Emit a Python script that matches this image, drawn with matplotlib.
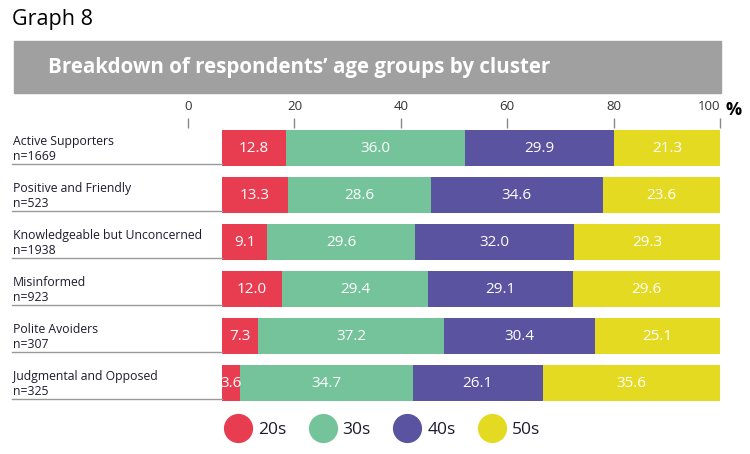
import matplotlib.pyplot as plt
from matplotlib.patches import Rectangle
from matplotlib.lines import Line2D

plt.rcParams['font.family'] = ['Open Sans', 'DejaVu Sans']

# data
clusters = ["Active Supporters", "Positive and Friendly", "Knowledgeable but Unconcerned",
            "Misinformed", "Polite Avoiders", "Judgmental and Opposed"]
n_resp = [1669, 523, 1938, 923, 307, 325]
age_groups = ["20s", "30s", "40s", "50s"]
v20 = [12.8, 13.3, 9.1, 12.0, 7.3, 3.6]
v30 = [36.0, 28.6, 29.6, 29.4, 37.2, 34.7]
v40 = [29.9, 34.6, 32.0, 29.1, 30.4, 26.1]
v50 = [21.3, 23.6, 29.3, 29.6, 25.1, 35.6]
ticks = [0, 20, 40, 60, 80, 100]

colors = ["#E83C50", "#74C39A", "#5A539F", "#E5DA22"]
text_col = "#1c1c2e"

W, H = 750, 454
fig = plt.figure(figsize=(W / 100, H / 100), dpi=100)


def box(x0, y0, x1, y1):
    # pixel box (top-left origin) -> figure fraction
    return [x0 / W, 1 - y1 / H, (x1 - x0) / W, (y1 - y0) / H]


# header
fig.text(12 / W, 1 - 19 / H, "Graph 8", fontsize=15.5, color="black", va="center", ha="left")
fig.patches.append(Rectangle((14 / W, 1 - 93 / H), 707 / W, 52 / H,
                             transform=fig.transFigure, color="#A0A0A0", zorder=0))
fig.text(48 / W, 1 - 68 / H, "Breakdown of respondents’ age groups by cluster",
         fontsize=14.8, fontweight="bold", color="white", va="center", ha="left")

# tick scale axis (top)
tax = fig.add_axes(box(188, 128, 720, 128.5))
tax.set_xlim(0, 100)
tax.set_xticks(ticks)
tax.set_yticks([])
for s in tax.spines.values():
    s.set_visible(False)
tax.xaxis.set_ticks_position("top")
tax.xaxis.set_label_position("top")
tax.tick_params(axis="x", direction="out", length=7.5, width=1, color="#888888",
                labelsize=9.5, labelcolor="#333333", pad=3)
tax.get_xticklabels()[-1].set_horizontalalignment("right")
fig.text(725 / W, 1 - 110 / H, "%", fontsize=13, fontweight="bold", color="black",
         va="center", ha="left")

# bars
ax = fig.add_axes(box(222, 124.5, 720, 406.5))
ax.set_xlim(0, 100)
ax.set_ylim(len(clusters) - 0.5, -0.5)
ax.axis("off")

rows = list(range(len(clusters)))
left = [0.0] * len(clusters)
for vals, col in zip([v20, v30, v40, v50], colors):
    ax.barh(rows, vals, left=left, height=0.745, color=col, linewidth=0)
    for i, v in enumerate(vals):
        ax.text(left[i] + v / 2, i + 0.02, f"{v:.1f}", color="white", fontsize=11,
                ha="center", va="center")
    left = [l + v for l, v in zip(left, vals)]

for i, (name, n) in enumerate(zip(clusters, n_resp)):
    ax.text(-42, i + 0.02, f"{name}\nn={n}", fontsize=8.8, color=text_col,
            ha="left", va="center", linespacing=1.15, clip_on=False)
    ax.plot([-42.2, 0], [i + 0.35, i + 0.35], color="#999999", lw=1, clip_on=False)

# legend
handles = [Line2D([], [], marker="o", linestyle="none", markersize=20,
                  markerfacecolor=c, markeredgecolor=c) for c in colors]
fig.legend(handles, age_groups, loc="center", bbox_to_anchor=(382 / W, 1 - 430 / H),
           ncol=4, frameon=False, fontsize=12.5, handletextpad=0.35, columnspacing=1.3,
           handlelength=1.6, labelcolor=text_col)

fig.savefig("out.png", dpi=100)
